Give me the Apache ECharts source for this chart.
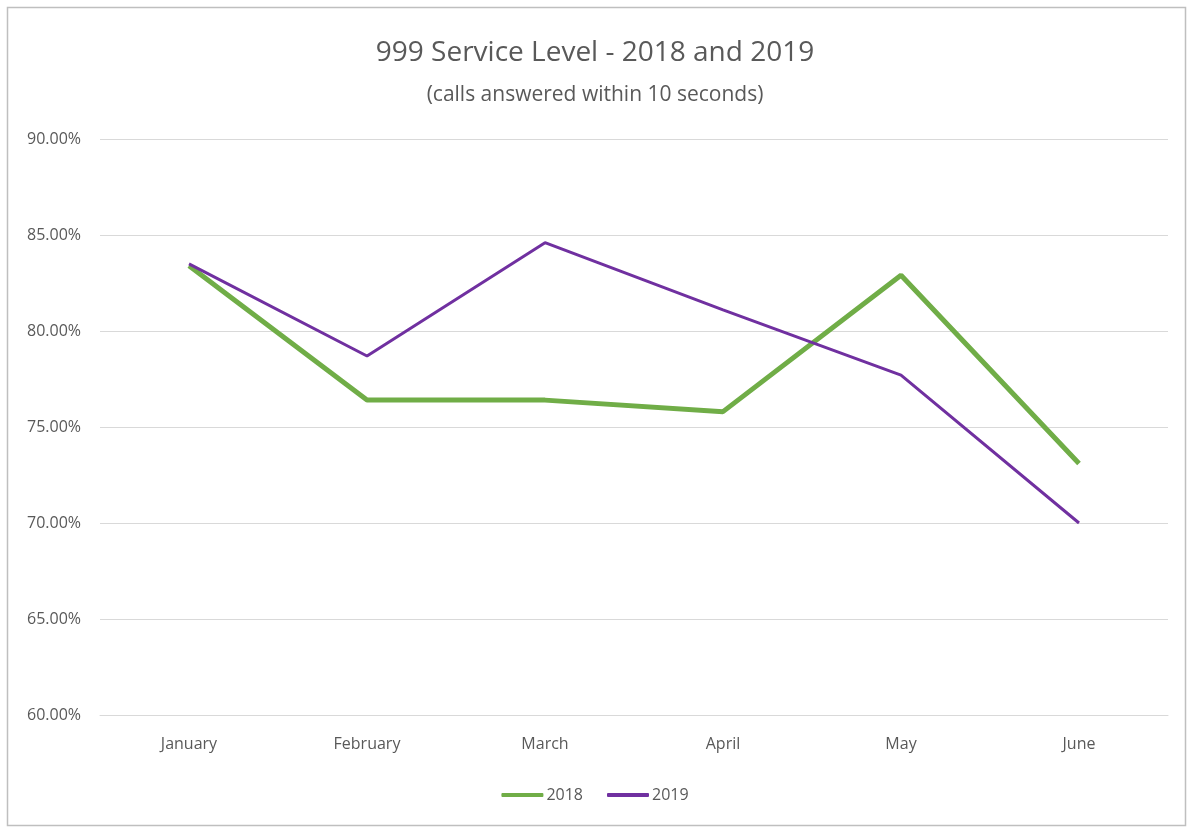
<!DOCTYPE html>
<html><head><meta charset="utf-8">
<script src="https://cdn.jsdelivr.net/npm/echarts@6/dist/echarts.min.js"></script>
<style>html,body{margin:0;padding:0;background:#fff}#c{width:1190px;height:830px}</style>
</head><body><div id="c"></div>
<script>
const titleText = '999 Service Level - 2018 and 2019';
const subtitleText = '(calls answered within 10 seconds)';
const months = ['January','February','March','April','May','June'];
const series2018 = [83.4, 76.4, 76.4, 75.8, 82.9, 73.1];
const series2019 = [83.5, 78.7, 84.6, 81.1, 77.7, 70.0];
const yMin = 60, yMax = 90, yStep = 5;

const font = '"Open Sans", "Liberation Sans", sans-serif';
const chart = echarts.init(document.getElementById('c'), null, {renderer:'canvas'});
chart.setOption({
  animation:false,
  backgroundColor:'#fff',
  graphic:[{type:'rect', shape:{x:7.5,y:7.5,width:1178,height:818}, style:{fill:'none', stroke:'#bfbfbf', lineWidth:1.5}, silent:true}],
  title:[
    {text:titleText, left:'center', top:34, textStyle:{fontFamily:font, fontSize:28, fontWeight:'normal', color:'#595959'}},
    {text:subtitleText, left:'center', top:80, textStyle:{fontFamily:font, fontSize:21, fontWeight:'normal', color:'#595959'}}
  ],
  legend:{bottom:22, left:'center', itemWidth:42, itemHeight:4, itemGap:24,
    textStyle:{fontFamily:font, fontSize:16, color:'#595959', padding:[0,0,0,-2]},
    data:[{name:'2018', icon:'roundRect'},{name:'2019', icon:'roundRect'}]},
  grid:{left:100, right:22, top:139, bottom:115, containLabel:false},
  xAxis:{type:'category', data:months, boundaryGap:true,
    axisLine:{lineStyle:{color:'#d9d9d9'}}, axisTick:{show:false},
    axisLabel:{fontFamily:font, fontSize:16, color:'#595959', margin:21}},
  yAxis:{type:'value', min:yMin, max:yMax, interval:yStep,
    axisLine:{show:false}, axisTick:{show:false},
    splitLine:{lineStyle:{color:'#d9d9d9'}},
    axisLabel:{fontFamily:font, fontSize:16, color:'#595959', margin:19, formatter:v=>v.toFixed(2)+'%'}},
  series:[
    {name:'2018', type:'line', data:series2018, symbol:'none', lineStyle:{width:5, color:'#70ad47'}, itemStyle:{color:'#70ad47'}},
    {name:'2019', type:'line', data:series2019, symbol:'none', lineStyle:{width:3, color:'#7030a0'}, itemStyle:{color:'#7030a0'}}
  ]
});
</script></body></html>
